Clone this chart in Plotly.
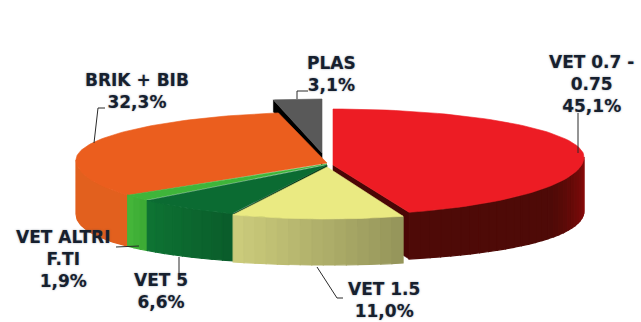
import numpy as np
import plotly.graph_objects as go

categories = ["VET 0.7 -<br>0.75", "VET 1.5", "VET 5", "VET ALTRI<br>F.TI", "BRIK + BIB", "PLAS"]
shares = [45.1, 11.0, 6.6, 1.9, 32.3, 3.1]
value_labels = ["45,1%", "11,0%", "6,6%", "1,9%", "32,3%", "3,1%"]

# slice styles, explosion apexes and the rim's centre height per slice
apex = [(333, 165), (327, 167), (327, 165), (327, 164), (327, 163), (322, 153)]
rim_cy = [157, 161, 160, 160, 160, 147]
top_colors = ["#ED1C24", "#EAEA82", "#0B6B32", "#3FB53A", "#EB5E1E", "#595959"]
wall_left = ["#8A0A0A", "#CDCD7C", "#0E7434", "#46B83A", "#E2601E", "#444444"]
wall_right = ["#4E0A07", "#94945A", "#0A5C2A", "#3BA834", "#E2601E", "#444444"]
face_colors = ["#4A0606", "#7A7A40", "#07381A", "#2A7A22", "#B84A14", "#000000"]
A, B_BACK, B_FRONT = 251, 48, 58

label_pos = [(591, 84), (384, 300), (161, 291), (63, 259), (137, 91), (331, 74)]
leaders = [
    [(578, 153), (578, 113)],
    [(317, 267), (337, 298), (343, 298)],
    [(179, 257), (179, 273)],
    [(139, 246), (116, 247)],
    [(94, 143), (98, 108), (105, 108)],
    [(297, 99), (297, 91), (308, 91)],
]

fig = go.Figure()


def poly(xs, ys, color):
    xs, ys = list(xs), list(ys)
    fig.add_trace(go.Scatter(x=xs + xs[:1], y=ys + ys[:1], mode="lines", fill="toself", fillcolor=color,
                             line=dict(color=color, width=0.6), hoverinfo="skip", showlegend=False))


def mix(c1, c2, t):
    a = [int(c1[i:i + 2], 16) for i in (1, 3, 5)]
    b = [int(c2[i:i + 2], 16) for i in (1, 3, 5)]
    return "#" + "".join(f"{round(p + (q - p) * t):02x}" for p, q in zip(a, b))


def pt(i, th):
    th = np.asarray(th, dtype=float)
    c = np.cos(th)
    return apex[i][0] + A * np.sin(th), rim_cy[i] - np.where(c > 0, B_BACK, B_FRONT) * c


def depth(th):
    return 46 + 8 * np.sin(th) ** 2


edges = np.radians(np.cumsum([0] + shares) * 3.6)


def draw(i):
    t0, t1 = edges[i], edges[i + 1]
    ax, ay = apex[i]
    # radial face turned to the viewer
    if i == 0:
        x, y = pt(i, t1)
        poly([ax, x, x, ax], [ay, y, y + depth(t1), ay + 46], face_colors[i])
    if i == 2:
        x, y = pt(i, t0)
        poly([ax, x, x, ax], [ay, y, y + depth(t0), ay + 46], face_colors[i])
    if i == 5:
        x, y = pt(i, t0)
        poly([ax, x, x, ax], [ay, y, y + 12, ay + 12], face_colors[i])
    # curved wall, split into overlapping strips for the shading
    lo, hi = max(t0, np.pi / 2), min(t1, 3 * np.pi / 2)
    if hi > lo:
        n = 1 if wall_left[i] == wall_right[i] else max(3, int(np.degrees(hi - lo) / 2.5))
        ticks = np.linspace(lo, hi, n + 1)
        for k in range(n):
            # painted from the far end back, so each strip overlaps its neighbour
            j = n - 1 - k
            th = np.linspace(ticks[j], ticks[j + 1], max(4, int(np.degrees(hi - lo) / n) + 2))
            x, y = pt(i, th)
            tt = (j + 0.5) / n
            if i == 0:
                c = mix(wall_left[i], wall_right[i], min(1, tt * 2.5))
            else:
                c = mix(wall_right[i], wall_left[i], tt)
            fig.add_trace(go.Scatter(x=list(np.r_[x, x[::-1], x[0]]), y=list(np.r_[y, y[::-1] + depth(th[::-1]), y[0]]),
                                     mode="lines", fill="toself", fillcolor=c, line=dict(color=c, width=1.2),
                                     hoverinfo="skip", showlegend=False))
    # top
    th = np.linspace(t0, t1, 80)
    x, y = pt(i, th)
    poly(np.r_[ax, x], np.r_[ay, y], top_colors[i])


for i in [5, 4, 3, 0, 2, 1]:
    draw(i)

for seg in leaders:
    fig.add_trace(go.Scatter(x=[p[0] for p in seg], y=[p[1] for p in seg], mode="lines",
                             line=dict(color="#2a2a2a", width=1), hoverinfo="skip", showlegend=False))

for name, val, (lx, ly) in zip(categories, value_labels, label_pos):
    fig.add_annotation(x=lx, y=ly, text=f"{name}<br>{val}", showarrow=False, align="center",
                       font=dict(family="DejaVu Sans", size=17, color="#16202e", weight="bold",
                                 shadow="0 0 2px rgba(60,70,90,0.5)"))

fig.update_xaxes(range=[0, 641], visible=False, fixedrange=True)
fig.update_yaxes(range=[322, 0], visible=False, fixedrange=True)
fig.update_layout(width=641, height=322, margin=dict(l=0, r=0, t=0, b=0), paper_bgcolor="white",
                  plot_bgcolor="white", showlegend=False)
fig.write_html("out.html", config={"displayModeBar": False},
               post_script="document.body.style.margin='0';document.body.style.overflow='hidden';")
